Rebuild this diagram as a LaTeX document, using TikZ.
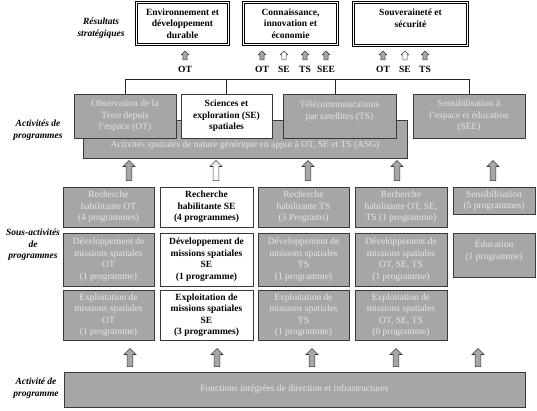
\documentclass[tikz,border=0pt]{standalone}
\usepackage{fontspec}
\setmainfont{Liberation Serif}
\usetikzlibrary{positioning,shapes.arrows}
\definecolor{boxgray}{HTML}{A6A6A6}
\definecolor{boxtxt}{HTML}{E6E6E6}
\definecolor{edge}{HTML}{3A3A3A}
\newcommand{\boxfont}{\fontsize{9.5}{11.5}\selectfont}
\tikzset{
  res/.style={rectangle,draw=black,double,double distance=1.4pt,line width=0.9pt,
    fill=white,align=center,inner sep=1pt,font=\boxfont\bfseries},
  gbox/.style={rectangle,draw=edge,line width=0.8pt,fill=boxgray,text=boxtxt,
    align=center,inner sep=1pt,font=\boxfont},
  wbox/.style={gbox,fill=white,text=black,font=\boxfont\bfseries},
  lvl/.style={align=center,font=\boxfont\bfseries\itshape},
  tag/.style={font=\boxfont\bfseries,inner sep=0pt},
  link/.style={draw=black!85,line width=0.6pt},
  smallarr/.style={single arrow,draw=edge,line width=0.5pt,shape border rotate=90,
    inner sep=1.8pt,minimum height=9pt,single arrow head extend=1.8pt},
  bigarr/.style={single arrow,draw=edge,line width=0.6pt,shape border rotate=90,
    inner sep=2.6pt,minimum height=20pt,single arrow head extend=3pt},
}

\begin{document}
\begin{tikzpicture}[x=1pt,y=-1pt]
  \useasboundingbox (0,0) rectangle (537,410);
  % row labels
  \node[lvl] (l1) at (101,28) {Résultats\\stratégiques};
  \node[lvl] (l2) at (38,130) {Activités de\\programmes};
  \node[lvl] (l3) at (33,245) {Sous-activités\\de\\programmes};
  \node[lvl] (l4) at (36,388) {Activité de\\programme};
  % strategic outcomes
  \node[res,minimum width=92,minimum height=42] (env) at (182.5,23.5) {Environnement et\\développement\\durable};
  \node[res,minimum width=94,minimum height=42] (con) at (290.5,23.5) {Connaissance,\\innovation et\\économie};
  \node[res,minimum width=114,minimum height=43] (sov) at (410.5,24) {Souveraineté et\\sécurité\\~};
  \foreach \n/\x/\f/\t in {a1/185/boxgray/OT,a2/262/boxgray/OT,a3/284/white/SE,a4/305/boxgray/TS,
      a5/326/boxgray/SEE,a6/383/boxgray/OT,a7/405/white/SE,a8/425/boxgray/TS}{
    \node[smallarr,fill=\f] (\n) at (\x,56.5) {};
    \node[tag,below=6pt of \n] (\n-t) {\t};
  }
  % program activities
  \node[gbox,minimum width=324,minimum height=38] (asg) at (245,139)
    {\strut\\Activités spatiales de nature générique en appui à OT, SE et TS (ASG)};
  \node[gbox,minimum width=102,minimum height=44] (ot) at (125,116) {Observation de la\\Terre depuis\\l'espace (OT)};
  \node[wbox,minimum width=91,minimum height=44] (se) at (226.5,116) {Sciences et\\exploration (SE)\\spatiales};
  \node[gbox,minimum width=113,minimum height=44] (ts) at (339.5,116) {Télécommunications\\par satellites (TS)\\~};
  \node[gbox,minimum width=112,minimum height=44] (see) at (469,116) {Sensibilisation à\\l'espace et éducation\\(SEE)};
  \coordinate (bar) at (0,79);
  \draw[link] (ot.north) |- (see.north |- bar) -- (see.north);
  \draw[link] (se.north) -- (se.north |- bar);
  \draw[link] ([xshift=-4.5pt]ts.north) -- ([xshift=-4.5pt]ts.north |- bar);
  \foreach \n/\x/\f in {b1/129/boxgray,b2/216/white,b3/308/boxgray,b4/397/boxgray,b5/493/boxgray}
    \node[bigarr,fill=\f] (\n) at (\x,172) {};
  % sub-activities
  \node[gbox,minimum width=91,minimum height=40] (rot) at (108.5,207) {Recherche\\habilitante OT\\(4 programmes)};
  \node[wbox,minimum width=93,minimum height=40] (rse) at (206.5,207) {Recherche\\habilitante SE\\(4 programmes)};
  \node[gbox,minimum width=91,minimum height=40] (rts) at (303.5,207) {Recherche\\habilitante TS\\(3 Programs)};
  \node[gbox,minimum width=92,minimum height=40] (rall) at (401,207) {Recherche\\habilitante OT, SE,\\TS (1 programme)};
  \node[gbox,minimum width=82,minimum height=27] (sens) at (494,200.5) {Sensibilisation\\(5 programmes)};
  \node[gbox,minimum width=91,minimum height=53] (dot) at (108.5,259.5) {Développement de\\missions spatiales\\OT\\(1 programme)};
  \node[wbox,minimum width=93,minimum height=53] (dse) at (206.5,259.5) {Développement de\\missions spatiales\\SE\\(1 programme)};
  \node[gbox,minimum width=91,minimum height=53] (dts) at (303.5,259.5) {Développement de\\missions spatiales\\TS\\(1 programme)};
  \node[gbox,minimum width=92,minimum height=53] (dall) at (401,259.5) {Développement de\\missions spatiales\\OT, SE, TS\\(1 programme)};
  \node[gbox,minimum width=82,minimum height=44] (edu) at (494,255) {Éducation\\(1 programme)\\~};
  \node[gbox,minimum width=91,minimum height=50] (eot) at (108.5,315) {Exploitation de\\missions spatiales\\OT\\(1 programme)};
  \node[wbox,minimum width=93,minimum height=50] (ese) at (206.5,315) {Exploitation de\\missions spatiales\\SE\\(3 programmes)};
  \node[gbox,minimum width=91,minimum height=50] (ets) at (303.5,315) {Exploitation de\\missions spatiales\\TS\\(1 programme)};
  \node[gbox,minimum width=92,minimum height=50] (eall) at (401,315) {Exploitation de\\missions spatiales\\OT, SE, TS\\(0 programme)};
  \foreach \n/\x in {c1/130,c2/217,c3/312,c4/396,c5/478}
    \node[bigarr,fill=boxgray,minimum height=18pt] (\n) at (\x,359) {};
  % program activity
  \node[gbox,minimum width=461,minimum height=35] (fct) at (294.5,389.5) {Fonctions intégrées de direction et infrastructures};
\end{tikzpicture}
\end{document}
